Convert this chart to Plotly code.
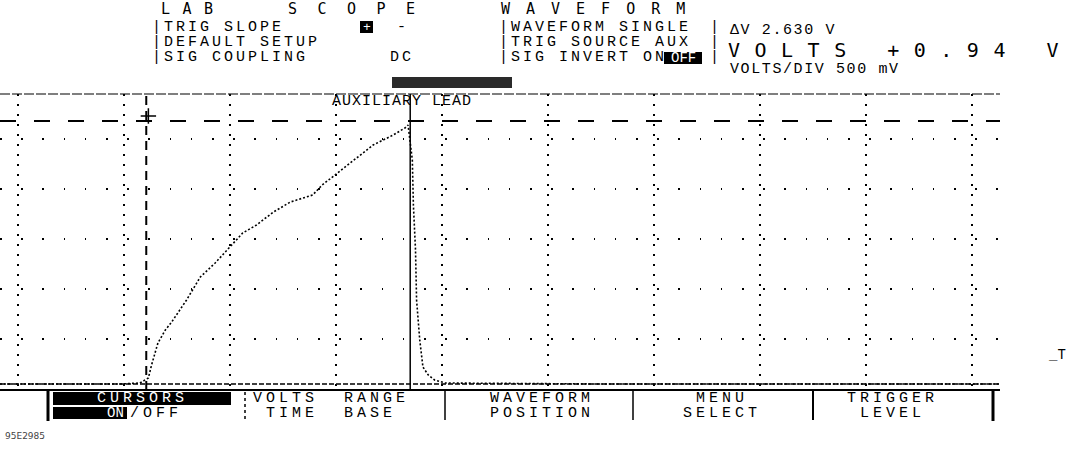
import plotly.graph_objects as go

# ---------------- data ----------------
# waveform: time in screen divisions, amplitude in volts (500 mV/div)
t_div = [-0.17, 0.40, 0.96, 1.15, 1.23, 1.26, 1.32, 1.39, 1.45, 1.59, 1.72, 1.86,
         2.00, 2.12, 2.25, 2.41, 2.57, 2.78, 2.87, 2.99, 3.16, 3.35, 3.54, 3.65,
         3.68, 3.70, 3.72, 3.73, 3.75, 3.76, 3.79, 3.82, 3.87, 3.93, 4.03, 5.49,
         7.38, 9.26]
volts = [0.05, 0.05, 0.05, 0.06, 0.11, 0.24, 0.46, 0.59, 0.67, 0.89, 1.12, 1.26,
         1.42, 1.56, 1.64, 1.77, 1.87, 1.94, 2.04, 2.14, 2.29, 2.44, 2.54, 2.61,
         2.64, 2.49, 2.29, 1.84, 1.39, 0.89, 0.49, 0.22, 0.14, 0.09, 0.06, 0.05,
         0.05, 0.05]

cursor_volts = [0.05, 2.68]      # horizontal voltage cursors (dV 2.630 V)
cursor_time = [1.21, 3.70]       # vertical markers
trig_marker = [1.23, 2.73]

title_words = ["LAB", "SCOPE", "WAVEFORM"]
left_lines = ["|TRIG SLOPE", "|DEFAULT SETUP", "|SIG COUPLING"]
mid_lines = ["|WAVEFORM SINGLE", "|TRIG SOURCE AUX", "|SIG INVERT ON"]
right_lines = ["\u0394V 2.630 V", "VOLTS +0.94 V", "VOLTS/DIV 500 mV"]
menu_labels = [("VOLTS  RANGE", "TIME  BASE"), ("WAVEFORM", "POSITION"),
               ("MENU", "SELECT"), ("TRIGGER", "LEVEL")]
trace_label = "AUXILIARY LEAD"
footnote = "95E2985"

# ---------------- figure ----------------
W, H = 1074, 452
L, R, T, B = 0, 74, 94, 62
PW, PH = W - L - R, H - T - B


def px(x):
    return (x - L) / PW


def py(y):
    return (H - B - y) / PH


MONO = "Liberation Mono"
DMONO = "DejaVu Sans Mono"
fig = go.Figure()

fig.add_trace(go.Scatter(x=t_div, y=volts, mode="lines",
                         line=dict(color="black", width=1.6, dash="2px,2px"),
                         hoverinfo="skip", showlegend=False))
fig.add_trace(go.Scatter(x=[trig_marker[0]], y=[trig_marker[1]], mode="markers",
                         marker=dict(symbol="cross-thin", size=11,
                                     line=dict(color="black", width=1.5)),
                         hoverinfo="skip", showlegend=False))

shapes = []
# horizontal cursors
shapes.append(dict(type="line", xref="paper", yref="y", x0=0, x1=1,
                   y0=cursor_volts[1], y1=cursor_volts[1],
                   line=dict(color="black", width=2, dash="16px,18px")))
shapes.append(dict(type="line", xref="paper", yref="y", x0=0, x1=1,
                   y0=cursor_volts[0], y1=cursor_volts[0],
                   line=dict(color="black", width=1.5, dash="5px,2px")))
# vertical markers
shapes.append(dict(type="line", xref="x", yref="paper", x0=cursor_time[0],
                   x1=cursor_time[0], y0=0, y1=1,
                   line=dict(color="black", width=2, dash="9px,6px")))
shapes.append(dict(type="line", xref="x", yref="paper", x0=cursor_time[1],
                   x1=cursor_time[1], y0=0, y1=1,
                   line=dict(color="black", width=1.5)))
# top and bottom border of the graticule
shapes.append(dict(type="line", xref="paper", yref="paper", x0=0, x1=1, y0=1, y1=1,
                   line=dict(color="black", width=1.2, dash="10px,2px")))
shapes.append(dict(type="line", xref="paper", yref="paper", x0=0, x1=1, y0=0, y1=0,
                   line=dict(color="black", width=2)))


def vline(x, y0, y1, w=1.5, dash="solid"):
    shapes.append(dict(type="line", xref="paper", yref="paper", x0=px(x), x1=px(x),
                       y0=py(y0), y1=py(y1), line=dict(color="black", width=w, dash=dash)))


vline(48, 390, 421, 3)
vline(245, 392, 420, 1.5, "3px,3px")
vline(445, 390, 420, 1.5)
vline(633, 390, 420, 1.5)
vline(813, 390, 420, 2)
vline(993, 390, 421, 3)


def rect(x0, y0, x1, y1, color="black"):
    shapes.append(dict(type="rect", xref="paper", yref="paper", x0=px(x0), x1=px(x1),
                       y0=py(y1), y1=py(y0), line=dict(width=0), fillcolor=color))


rect(53, 392, 231, 405)
rect(53, 407, 127, 419)
rect(392, 77, 512, 88, "#2a2a2a")
rect(360, 21, 373, 33)
rect(664, 52, 702, 64)

annotations = []


def text(s, x, y, size=15, anchor="left", color="black", font=MONO, ls=0.0):
    if ls:
        s = '<span style="letter-spacing:%.1fpx">%s</span>' % (ls, s)
    annotations.append(dict(text=s, xref="paper", yref="paper", x=px(x), y=py(y),
                            xanchor=anchor, yanchor="middle", showarrow=False,
                            font=dict(family=font, size=size, color=color)))


# header
for word, x, ls in zip(title_words, [159, 286, 499], [12.5, 20.5, 16]):
    text(word, x, 9, 15, font=DMONO, ls=ls)
for s, y in zip(left_lines, [27, 42, 58]):
    text(s, 150, y, 15, ls=3)
text("+", 366.5, 27, 13, anchor="center", color="white")
text("-", 395, 27)
text("DC", 388, 58, 15, ls=3)
for s, y in zip(mid_lines, [27, 42, 58]):
    text(s, 497, y, 15, ls=3)
text("OFF", 683, 58, 14, anchor="center", color="white")
for y in [27, 42, 58]:
    text("|", 708, y)
text(right_lines[0], 728, 31, 15, ls=1.6)
text(right_lines[1], 726, 50, 20, font=DMONO, ls=14.5)
text(right_lines[2], 728, 69, 15, ls=1.6)

text(trace_label, 330, 102, 15, ls=1)
text("_T", 1046, 355, 14)

# menu
text("CURSORS", 142, 398.5, 15, anchor="center", color="white", ls=4)
text("ON", 115, 413, 14, anchor="center", color="white")
text("/OFF", 128, 413, 15, ls=4)
for (a, b), cx in zip(menu_labels, [331, 542, 722, 892]):
    text(a, cx, 398.5, 15, anchor="center", ls=4)
    text(b, cx, 413, 15, anchor="center", ls=4)

text(footnote, 3, 436, 9, color="#444", font="DejaVu Sans")

fig.update_layout(
    width=W, height=H,
    margin=dict(l=L, r=R, t=T, b=B),
    paper_bgcolor="white", plot_bgcolor="white",
    shapes=shapes, annotations=annotations,
    xaxis=dict(range=[-0.1698, 9.264], tick0=0, dtick=1, showgrid=True,
               gridcolor="black", gridwidth=1.5, griddash="1.5px,8.5px",
               zeroline=False, showticklabels=False, ticks="", showline=False),
    yaxis=dict(range=[-0.01, 2.95], tick0=0, dtick=0.5, showgrid=True,
               gridcolor="black", gridwidth=1.5, griddash="1.5px,19.7px",
               zeroline=False, showticklabels=False, ticks="", showline=False),
)

fig.write_html("out.html", config={"displayModeBar": False},
               post_script="document.body.style.margin='0px';document.body.style.padding='0px';")
